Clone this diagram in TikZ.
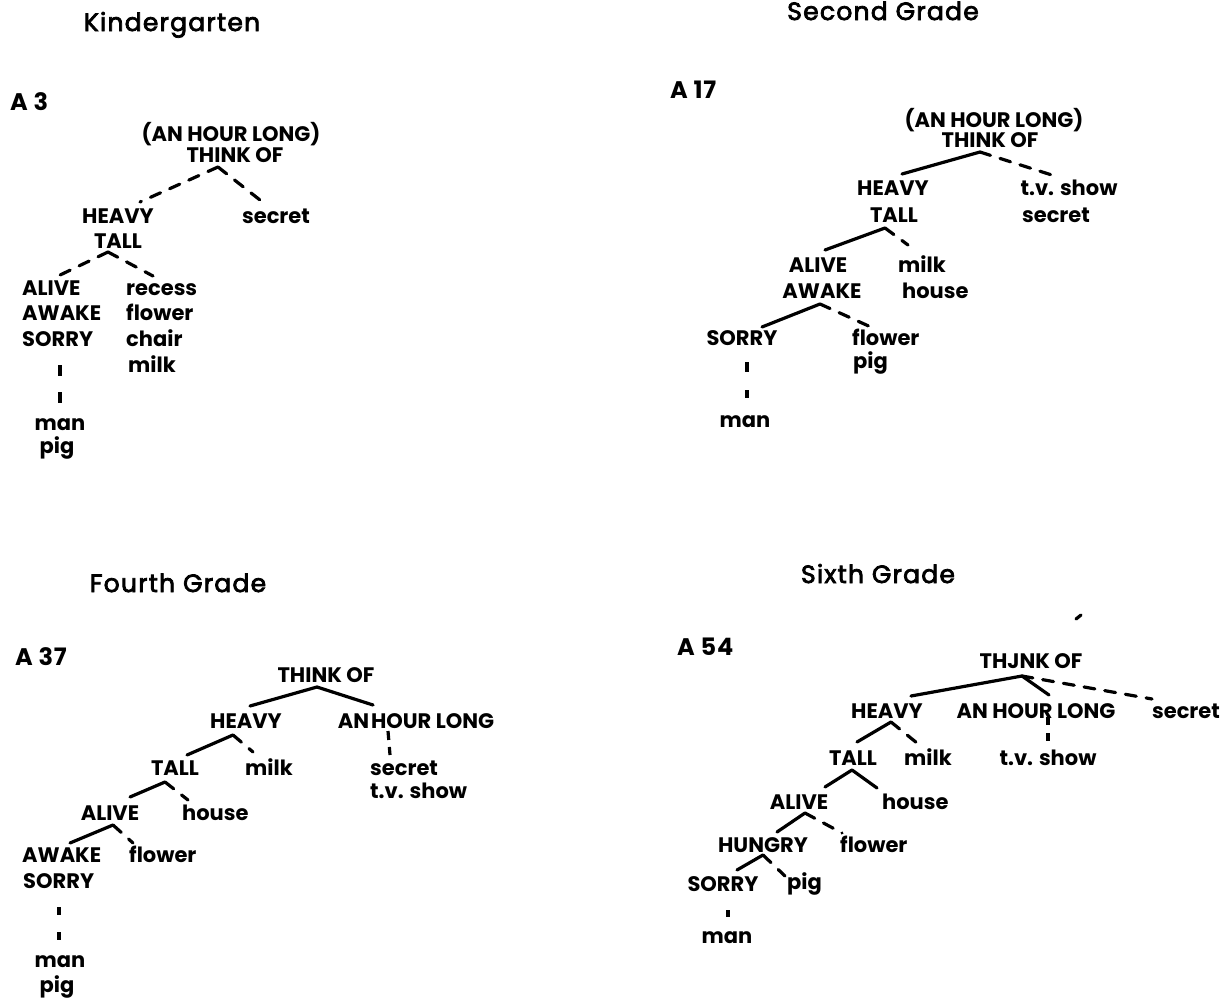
\documentclass[tikz,border=0pt]{standalone}
\usepackage{fontspec}
\setmainfont{Poppins}
\newfontfamily\gradefont[FakeBold=3,LetterSpace=5]{Poppins}
\newfontfamily\labelfont[LetterSpace=3]{Poppins}
\begin{document}
\begin{tikzpicture}[x=1pt,y=-1pt,
 title/.style={font=\gradefont\fontsize{25}{25}\selectfont,anchor=base,inner sep=0pt},
 lab/.style={font=\labelfont\bfseries\fontsize{24}{24}\selectfont,anchor=base west,inner sep=0pt},
 wd/.style={font=\bfseries\fontsize{21}{21}\selectfont,anchor=base,inner sep=0pt},
 wdl/.style={wd,anchor=base west},
 solidln/.style={line width=3.2pt,line cap=round},
 dashln/.style={line width=3.2pt,line cap=round,dash pattern=on 11pt off 10pt},
 tick/.style={line width=3.2pt,line cap=butt}]
\useasboundingbox (0,0) rectangle (1227,999);

% ---------------- Kindergarten ----------------
\node[title] (kt) at (172,31) {Kindergarten};
\node[lab] (kl) at (10,110) {A 3};
\node[wd] (k1) at (231,141) {(AN HOUR LONG)};
\node[wd] (k2) at (235,162) {THINK OF};
\node[wd] (k3) at (118,223) {HEAVY};
\node[wd] (k4) at (276,223) {secret};
\node[wd] (k5) at (118,248) {TALL};
\node[wdl] (k6) at (22,295) {ALIVE};
\node[wdl] (k7) at (22,320) {AWAKE};
\node[wdl] (k8) at (22,346) {SORRY};
\node[wdl] (k9) at (126,295) {recess};
\node[wdl] (k10) at (126,320) {flower};
\node[wdl] (k11) at (126,346) {chair};
\node[wdl] (k12) at (128,372) {milk};
\node[wd] (k13) at (60,430) {man};
\node[wd] (k14) at (57,453) {pig};
\coordinate (ka1) at (218,167);
\coordinate (ke1) at (140,202);
\coordinate (ke2) at (260,200);
\coordinate (ka2) at (108,252);
\coordinate (ke3) at (58,276);
\coordinate (ke4) at (153,276);
\coordinate (kv1) at (60,365);
\coordinate (kv2) at (60,403);
\draw[dashln] (ka1) -- (ke1);
\draw[dashln] (ka1) -- (ke2);
\draw[dashln] (ka2) -- (ke3);
\draw[dashln] (ka2) -- (ke4);
\draw[tick,dash pattern=on 11pt off 16pt] (kv1) -- (kv2);

% ---------------- Second Grade ----------------
\node[title] (st) at (883,20) {Second Grade};
\node[lab] (sl) at (670,98) {A 17};
\node[wd] (s1) at (994,127) {(AN HOUR LONG)};
\node[wd] (s2) at (990,147) {THINK OF};
\node[wd] (s3) at (893,195) {HEAVY};
\node[wd] (s4) at (1069,195) {t.v. show};
\node[wd] (s5) at (894,222) {TALL};
\node[wd] (s6) at (1056,222) {secret};
\node[wd] (s7) at (818,272) {ALIVE};
\node[wd] (s8) at (822,298) {AWAKE};
\node[wdl] (s9) at (898,272) {milk};
\node[wdl] (s10) at (902,298) {house};
\node[wd] (s11) at (742,345) {SORRY};
\node[wdl] (s12) at (852,345) {flower};
\node[wdl] (s13) at (853,368) {pig};
\node[wd] (s14) at (745,427) {man};
\coordinate (sa1) at (980,152);
\coordinate (se1) at (902,174);
\coordinate (se2) at (1058,177);
\coordinate (sa2) at (885,228);
\coordinate (se3) at (825,250);
\coordinate (se4) at (908,245);
\coordinate (sa3) at (820,304);
\coordinate (se5) at (762,327);
\coordinate (se6) at (873,328);
\coordinate (sv1) at (747,362);
\coordinate (sv2) at (747,398);
\draw[solidln] (sa1) -- (se1);
\draw[dashln] (sa1) -- (se2);
\draw[solidln] (sa2) -- (se3);
\draw[dashln] (sa2) -- (se4);
\draw[solidln] (sa3) -- (se5);
\draw[dashln] (sa3) -- (se6);
\draw[tick,dash pattern=on 10pt off 18pt] (sv1) -- (sv2);

% ---------------- Fourth Grade ----------------
\node[title] (ft) at (178,592) {Fourth Grade};
\node[lab] (fl) at (15,665) {A 37};
\node[wd] (f1) at (326,682) {THINK OF};
\node[wd] (f2) at (246,728) {HEAVY};
\node[wd] (f3) at (416,728) {AN\hspace{2pt}HOUR LONG};
\node[wd] (f4) at (175,775) {TALL};
\node[wd] (f5) at (269,775) {milk};
\node[wdl] (f6) at (370,775) {secret};
\node[wdl] (f7) at (370,798) {t.v. show};
\node[wd] (f8) at (110,820) {ALIVE};
\node[wdl] (f9) at (182,820) {house};
\node[wdl] (f10) at (22,862) {AWAKE};
\node[wdl] (f11) at (23,888) {SORRY};
\node[wdl] (f12) at (129,862) {flower};
\node[wd] (f13) at (60,967) {man};
\node[wd] (f14) at (57,992) {pig};
\coordinate (fa1) at (317,687);
\coordinate (fe1) at (250,706);
\coordinate (fe2) at (373,705);
\coordinate (fa2) at (233,735);
\coordinate (fe3) at (187,755);
\coordinate (fe4) at (253,752);
\coordinate (fv1) at (388,731);
\coordinate (fv2) at (390,755);
\coordinate (fa3) at (165,782);
\coordinate (fe5) at (130,797);
\coordinate (fe6) at (188,800);
\coordinate (fa4) at (113,825);
\coordinate (fe7) at (70,843);
\coordinate (fe8) at (133,843);
\coordinate (fv3) at (59,907);
\coordinate (fv4) at (59,940);
\draw[solidln] (fa1) -- (fe1);
\draw[solidln] (fa1) -- (fe2);
\draw[solidln] (fa2) -- (fe3);
\draw[dashln] (fa2) -- (fe4);
\draw[tick,dash pattern=on 9pt off 7pt] (fv1) -- (fv2);
\draw[solidln] (fa3) -- (fe5);
\draw[dashln] (fa3) -- (fe6);
\draw[solidln] (fa4) -- (fe7);
\draw[dashln] (fa4) -- (fe8);
\draw[tick,dash pattern=on 8pt off 17pt] (fv3) -- (fv4);

% ---------------- Sixth Grade ----------------
\node[title] (xt) at (878,583) {Sixth Grade};
\node[lab] (xl) at (677,655) {A 54};
\node[wd] (x1) at (1031,668) {THJNK OF};
\node[wd] (x2) at (887,718) {HEAVY};
\node[wd] (x3) at (1036,718) {AN HOUR LONG};
\node[wd] (x4) at (1186,718) {secret};
\node[wd] (x5) at (853,765) {TALL};
\node[wd] (x6) at (928,765) {milk};
\node[wd] (x7) at (1048,765) {t.v. show};
\node[wd] (x8) at (799,809) {ALIVE};
\node[wdl] (x9) at (882,809) {house};
\node[wd] (x10) at (763,852) {HUNGRY};
\node[wdl] (x11) at (840,852) {flower};
\node[wd] (x12) at (723,891) {SORRY};
\node[wdl] (x13) at (787,889) {pig};
\node[wd] (x14) at (727,943) {man};
\coordinate (xm1) at (1076,619);
\coordinate (xm2) at (1081,615);
\coordinate (xa1) at (1022,676);
\coordinate (xe1) at (911,696);
\coordinate (xe2) at (1049,695);
\coordinate (xe3) at (1152,699);
\coordinate (xa2) at (891,722);
\coordinate (xe4) at (857,742);
\coordinate (xe5) at (917,743);
\coordinate (xv1) at (1048,717);
\coordinate (xv2) at (1048,742);
\coordinate (xa3) at (852,770);
\coordinate (xe6) at (825,787);
\coordinate (xe7) at (877,788);
\coordinate (xa4) at (805,813);
\coordinate (xe8) at (777,832);
\coordinate (xe9) at (842,833);
\coordinate (xa5) at (763,855);
\coordinate (xe10) at (737,870);
\coordinate (xe11) at (785,876);
\coordinate (xv3) at (728,910);
\coordinate (xv4) at (728,917);
\draw[solidln] (xm1) -- (xm2);
\draw[solidln] (xa1) -- (xe1);
\draw[solidln] (xa1) -- (xe2);
\draw[dashln] (xa1) -- (xe3);
\draw[solidln] (xa2) -- (xe4);
\draw[dashln] (xa2) -- (xe5);
\draw[tick,dash pattern=on 8pt off 8pt] (xv1) -- (xv2);
\draw[solidln] (xa3) -- (xe6);
\draw[solidln] (xa3) -- (xe7);
\draw[solidln] (xa4) -- (xe8);
\draw[dashln] (xa4) -- (xe9);
\draw[solidln] (xa5) -- (xe10);
\draw[dashln] (xa5) -- (xe11);
\draw[tick] (xv3) -- (xv4);
\end{tikzpicture}
\end{document}
